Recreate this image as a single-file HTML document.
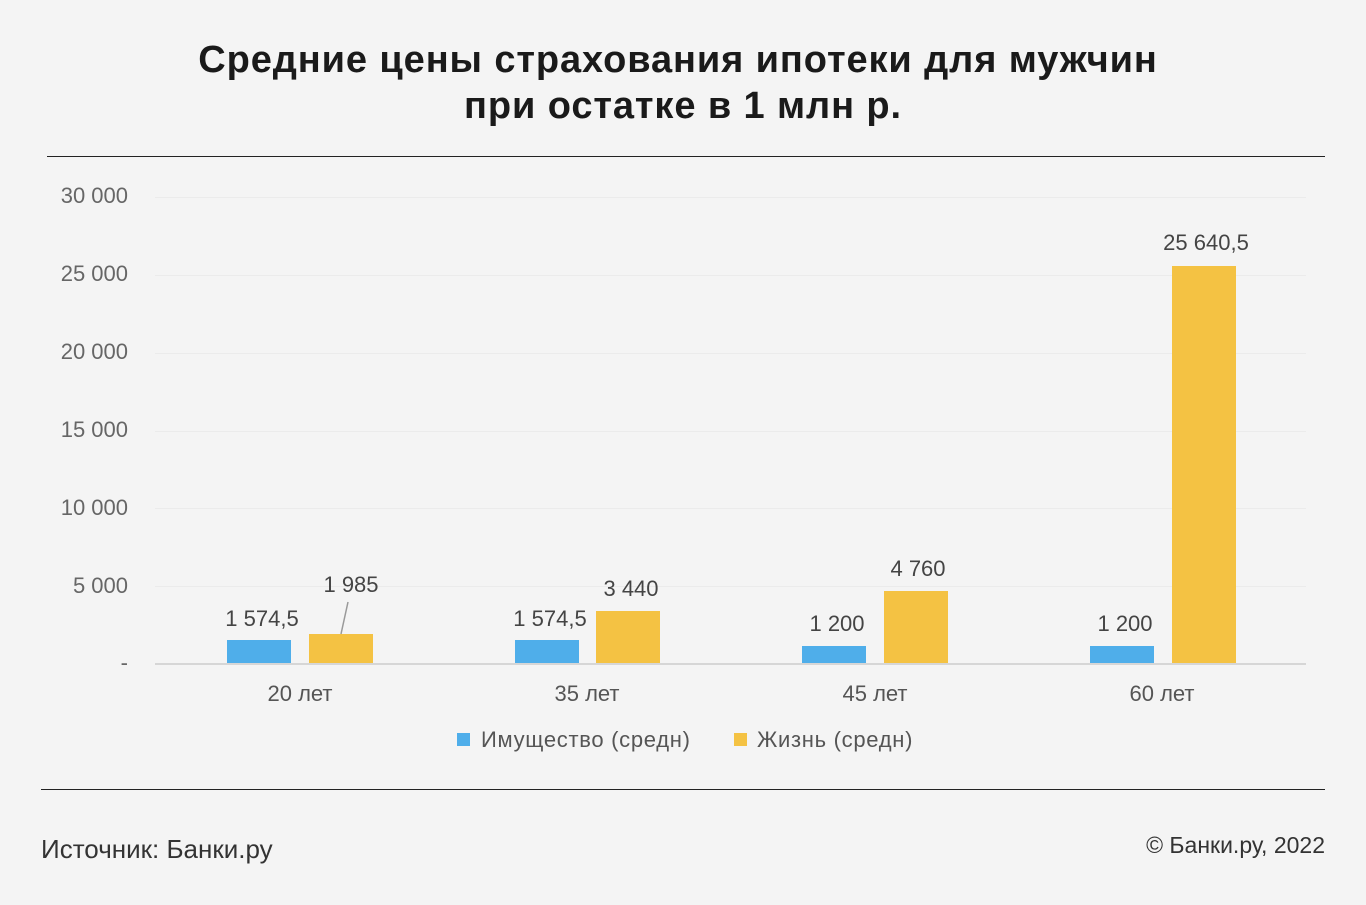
<!DOCTYPE html>
<html><head><meta charset="utf-8"><style>
html,body{margin:0;padding:0;background:#f4f4f4;}
body{width:1366px;height:900px;overflow:hidden;font-family:"Liberation Sans",sans-serif;}
</style></head><body>
<svg width="1366" height="900" xmlns="http://www.w3.org/2000/svg" font-family="Liberation Sans, sans-serif">
<rect width="1366" height="900" fill="#f4f4f4"/>
<text x="678" y="72" text-anchor="middle" font-size="38" font-weight="bold" fill="#1a1a1a" letter-spacing="0.9">Средние цены страхования ипотеки для мужчин</text>
<text x="683" y="118" text-anchor="middle" font-size="38" font-weight="bold" fill="#1a1a1a" letter-spacing="0.9">при остатке в 1 млн р.</text>
<line x1="47" y1="156.5" x2="1325" y2="156.5" stroke="#222" stroke-width="1"/>
<line x1="41" y1="789.5" x2="1325" y2="789.5" stroke="#222" stroke-width="1"/>
<g stroke="#ebebeb" stroke-width="1">
<line x1="155" y1="197.5" x2="1306" y2="197.5"/>
<line x1="155" y1="275.5" x2="1306" y2="275.5"/>
<line x1="155" y1="353.5" x2="1306" y2="353.5"/>
<line x1="155" y1="431.5" x2="1306" y2="431.5"/>
<line x1="155" y1="508.5" x2="1306" y2="508.5"/>
<line x1="155" y1="586.5" x2="1306" y2="586.5"/>
</g>
<line x1="155" y1="664" x2="1306" y2="664" stroke="#d6d6d6" stroke-width="2"/>
<g font-size="22" fill="#666" text-anchor="end">
<text x="128" y="203">30 000</text>
<text x="128" y="281">25 000</text>
<text x="128" y="359">20 000</text>
<text x="128" y="437">15 000</text>
<text x="128" y="515">10 000</text>
<text x="128" y="593">5 000</text>
<text x="128" y="670">-</text>
</g>
<g fill="#4faeea">
<rect x="227" y="640" width="64" height="23"/>
<rect x="515" y="640" width="64" height="23"/>
<rect x="802" y="646" width="64" height="17"/>
<rect x="1090" y="646" width="64" height="17"/>
</g>
<g fill="#f4c243">
<rect x="309" y="634" width="64" height="29"/>
<rect x="596" y="611" width="64" height="52"/>
<rect x="884" y="591" width="64" height="72"/>
<rect x="1172" y="266" width="64" height="397"/>
</g>
<line x1="341" y1="634" x2="348" y2="602" stroke="#999" stroke-width="1.5"/>
<g font-size="22" fill="#444" text-anchor="middle">
<text x="262" y="626">1 574,5</text>
<text x="351" y="592">1 985</text>
<text x="550" y="626">1 574,5</text>
<text x="631" y="596">3 440</text>
<text x="837" y="631">1 200</text>
<text x="918" y="576">4 760</text>
<text x="1125" y="631">1 200</text>
<text x="1206" y="250">25 640,5</text>
</g>
<g font-size="22" fill="#555" text-anchor="middle">
<text x="300" y="701">20 лет</text>
<text x="587" y="701">35 лет</text>
<text x="875" y="701">45 лет</text>
<text x="1162" y="701">60 лет</text>
</g>
<rect x="457" y="733" width="13" height="13" fill="#4faeea"/>
<text x="481" y="747" font-size="22" fill="#555" letter-spacing="0.7">Имущество (средн)</text>
<rect x="734" y="733" width="13" height="13" fill="#f4c243"/>
<text x="757" y="747" font-size="22" fill="#555" letter-spacing="0.7">Жизнь (средн)</text>
<text x="41" y="858" font-size="26" fill="#333">Источник: Банки.ру</text>
<text x="1325" y="853" font-size="23" fill="#333" text-anchor="end">© Банки.ру, 2022</text>
</svg>
</body></html>
